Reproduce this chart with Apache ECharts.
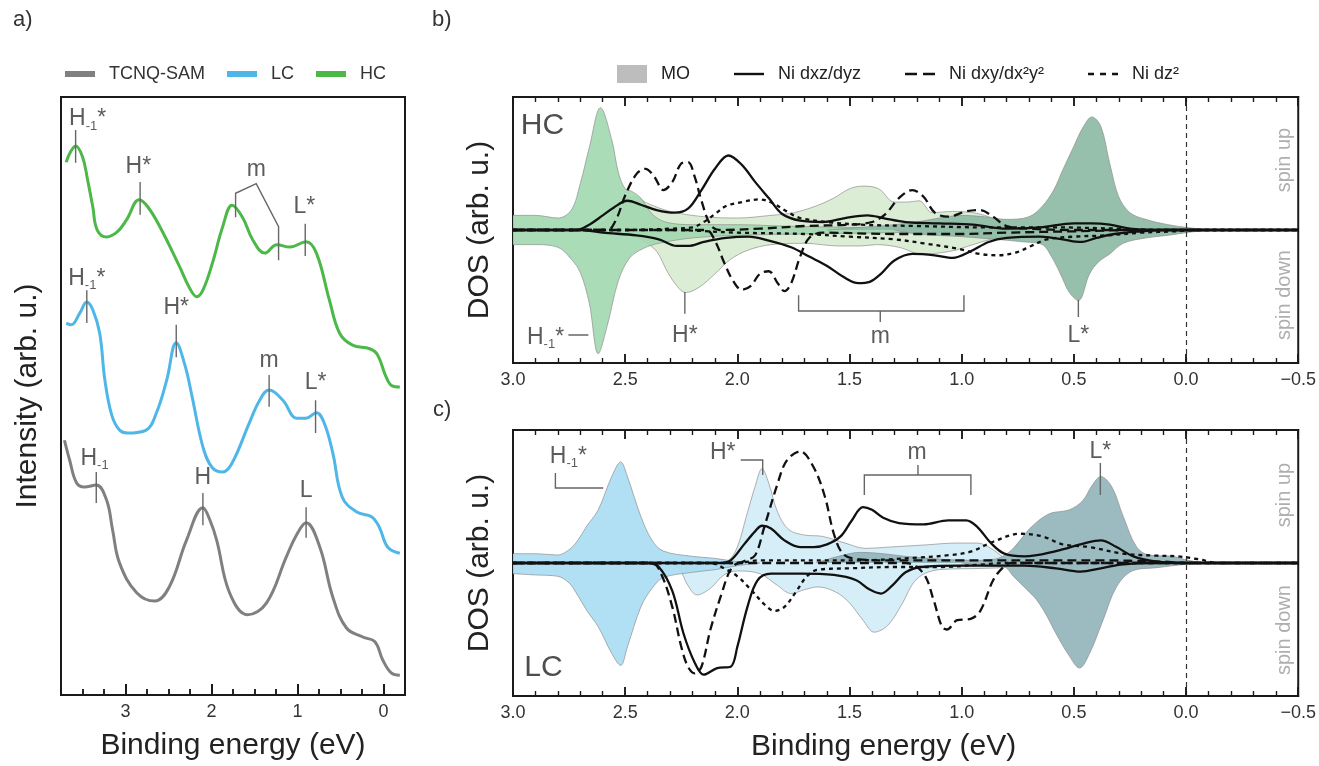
<!DOCTYPE html>
<html>
<head>
<meta charset="utf-8">
<script src="https://cdn.jsdelivr.net/npm/echarts@6/dist/echarts.min.js"></script>
<style>
  html, body { margin: 0; padding: 0; background: #fff; }
  #main { width: 1319px; height: 766px; }
</style>
</head>
<body>
<div id="main"></div>
<script>
// ---- panel a : UPS spectra, [binding energy eV, intensity arb. u.] ----
var spectraHc = [[3.69,89.1],[3.64,90.8],[3.58,91.8],[3.50,90.0],[3.44,86.1],[3.38,81.6],[3.33,77.8],[3.22,76.6],[3.10,77.4],[2.99,79.4],[2.84,82.8],[2.74,81.6],[2.60,78.3],[2.37,71.6],[2.26,68.2],[2.17,66.6],[2.10,67.7],[1.99,72.2],[1.87,78.3],[1.76,81.9],[1.64,79.9],[1.52,76.1],[1.38,73.9],[1.24,75.3],[1.09,74.9],[0.90,75.8],[0.78,73.9],[0.63,66.1],[0.51,60.5],[0.36,58.5],[0.16,57.9],[0.07,56.9],[-0.03,53.2],[-0.10,51.7],[-0.19,51.5]];
var spectraLc = [[3.69,62.2],[3.63,61.9],[3.53,63.9],[3.45,65.7],[3.38,64.4],[3.30,60.5],[3.24,52.7],[3.16,46.8],[3.07,44.3],[2.98,43.8],[2.76,44.3],[2.64,47.2],[2.52,52.7],[2.41,58.9],[2.31,55.2],[2.23,50.2],[2.10,41.5],[1.99,38.0],[1.87,37.3],[1.76,38.8],[1.56,45.5],[1.44,49.3],[1.33,51.0],[1.17,49.3],[1.01,46.3],[0.90,46.3],[0.78,47.2],[0.69,45.5],[0.59,40.5],[0.48,33.1],[0.31,30.6],[0.14,29.8],[0.05,28.1],[-0.05,24.7],[-0.19,23.7]];
var spectraTcnq = [[3.71,42.6],[3.65,39.3],[3.57,35.5],[3.48,34.8],[3.34,35.1],[3.22,32.6],[3.15,27.6],[3.07,22.1],[2.87,17.1],[2.66,15.7],[2.49,18.1],[2.29,25.9],[2.10,31.3],[2.02,29.3],[1.94,25.9],[1.79,17.1],[1.58,13.4],[1.36,15.4],[1.13,23.1],[1.01,26.8],[0.90,28.8],[0.74,24.7],[0.59,16.4],[0.43,11.2],[0.24,9.7],[0.10,8.9],[0.01,5.9],[-0.09,3.7],[-0.19,3.3]];
var majorTicksA = [0, 1, 2, 3];
var minorTicksA = [-0.25, 0.25, 0.5, 0.75, 1.25, 1.5, 1.75, 2.25, 2.5, 2.75, 3.25, 3.5, 3.75];

// ---- panel b : HC, DOS [eV, arb. u.], spin up > 0, spin down < 0 ----
var hcMoLightUp = [[2.65,0],[2.58,0.08],[2.52,0.2],[2.46,0.25],[2.40,0.2],[2.30,0.14],[2.15,0.10],[2.0,0.09],[1.85,0.11],[1.75,0.13],[1.65,0.18],[1.57,0.24],[1.50,0.31],[1.44,0.33],[1.37,0.31],[1.30,0.21],[1.24,0.21],[1.19,0.22],[1.13,0.13],[1.04,0.14],[0.95,0.13],[0.88,0.10],[0.82,0.05],[0.75,0.01],[0.7,0]];
var hcMoLightDown = [[2.5,0],[2.42,-0.08],[2.36,-0.16],[2.31,-0.32],[2.26,-0.44],[2.23,-0.47],[2.17,-0.43],[2.10,-0.33],[2.03,-0.22],[1.95,-0.15],[1.85,-0.11],[1.7,-0.10],[1.55,-0.12],[1.45,-0.12],[1.38,-0.11],[1.28,-0.13],[1.18,-0.18],[1.05,-0.16],[0.95,-0.11],[0.85,-0.06],[0.75,-0.02],[0.7,0]];
var hcMoMidUp = [[3.0,0.11],[2.9,0.11],[2.8,0.09],[2.74,0.15],[2.70,0.35],[2.66,0.62],[2.61,0.92],[2.56,0.68],[2.53,0.43],[2.50,0.31],[2.47,0.29],[2.43,0.24],[2.38,0.12],[2.32,0.06],[2.2,0.04],[2.0,0.04],[1.8,0.03],[1.5,0.02],[1.0,0.01],[0.7,0]];
var hcMoMidDown = [[3.0,-0.11],[2.9,-0.11],[2.8,-0.13],[2.74,-0.22],[2.70,-0.32],[2.66,-0.55],[2.62,-0.93],[2.58,-0.72],[2.53,-0.38],[2.48,-0.21],[2.42,-0.14],[2.35,-0.10],[2.2,-0.06],[2.0,-0.04],[1.7,-0.03],[1.3,-0.02],[0.9,-0.01],[0.7,0]];
var hcMoDarkUp = [[1.6,0],[1.45,0.02],[1.3,0.04],[1.2,0.06],[1.1,0.09],[1.0,0.11],[0.9,0.10],[0.8,0.08],[0.7,0.10],[0.64,0.18],[0.59,0.30],[0.55,0.45],[0.50,0.63],[0.46,0.77],[0.42,0.85],[0.38,0.78],[0.34,0.50],[0.30,0.25],[0.25,0.13],[0.18,0.08],[0.08,0.04],[0.0,0.02],[-0.1,0]];
var hcMoDarkDown = [[1.3,0],[1.2,-0.03],[1.0,-0.05],[0.85,-0.07],[0.72,-0.09],[0.64,-0.11],[0.60,-0.2],[0.56,-0.33],[0.52,-0.47],[0.48,-0.53],[0.43,-0.33],[0.39,-0.24],[0.34,-0.18],[0.28,-0.10],[0.18,-0.06],[0.08,-0.04],[0.0,-0.02],[-0.1,0]];
var hcDxzUp = [[3.0,0],[2.72,0],[2.66,0.04],[2.60,0.11],[2.55,0.17],[2.49,0.22],[2.43,0.19],[2.36,0.15],[2.28,0.13],[2.22,0.16],[2.16,0.30],[2.10,0.46],[2.04,0.56],[1.98,0.49],[1.92,0.36],[1.86,0.24],[1.80,0.12],[1.72,0.07],[1.62,0.06],[1.52,0.09],[1.42,0.11],[1.35,0.09],[1.25,0.06],[1.10,0.05],[0.95,0.04],[0.80,0.01],[0.65,0.02],[0.50,0.05],[0.42,0.05],[0.34,0.04],[0.25,0.01],[0.15,0],[-0.5,0]];
var hcDxzDown = [[3.0,0],[2.70,0],[2.60,-0.02],[2.45,-0.04],[2.35,-0.07],[2.27,-0.12],[2.22,-0.12],[2.15,-0.09],[2.05,-0.06],[1.95,-0.05],[1.86,-0.08],[1.76,-0.13],[1.68,-0.20],[1.60,-0.27],[1.53,-0.35],[1.46,-0.40],[1.41,-0.39],[1.36,-0.33],[1.30,-0.23],[1.22,-0.18],[1.12,-0.19],[1.04,-0.21],[0.96,-0.16],[0.88,-0.09],[0.80,-0.06],[0.65,-0.05],[0.55,-0.07],[0.47,-0.09],[0.40,-0.06],[0.32,-0.03],[0.20,-0.01],[0.10,0],[-0.5,0]];
var hcDxyUp = [[3.0,0],[2.58,0],[2.54,0.08],[2.50,0.26],[2.45,0.42],[2.41,0.46],[2.37,0.40],[2.33,0.30],[2.29,0.36],[2.25,0.50],[2.22,0.51],[2.19,0.40],[2.16,0.22],[2.12,0.04],[2.08,0],[1.9,0.01],[1.7,0.03],[1.5,0.04],[1.40,0.06],[1.34,0.12],[1.28,0.24],[1.22,0.30],[1.17,0.25],[1.12,0.13],[1.06,0.10],[0.98,0.14],[0.92,0.15],[0.86,0.10],[0.80,0.03],[0.70,0.01],[0.5,0],[-0.5,0]];
var hcDxyDown = [[3.0,0],[2.14,0],[2.10,-0.08],[2.06,-0.24],[2.02,-0.38],[1.98,-0.45],[1.94,-0.42],[1.90,-0.33],[1.86,-0.31],[1.82,-0.40],[1.79,-0.46],[1.76,-0.40],[1.72,-0.20],[1.68,-0.06],[1.62,-0.02],[1.3,-0.03],[1.0,-0.03],[0.8,-0.02],[0.5,-0.01],[0.2,0],[-0.5,0]];
var hcDz2Up = [[3.0,0],[2.5,0],[2.3,0.01],[2.2,0.02],[2.15,0.06],[2.10,0.12],[2.05,0.18],[1.98,0.21],[1.90,0.23],[1.84,0.20],[1.78,0.14],[1.72,0.09],[1.6,0.06],[1.45,0.04],[1.2,0.03],[0.9,0.02],[0.6,0.02],[0.3,0.01],[0.1,0],[-0.5,0]];
var hcDz2Down = [[3.0,0],[2.3,0],[2.0,-0.02],[1.7,-0.03],[1.5,-0.05],[1.3,-0.07],[1.17,-0.10],[1.02,-0.14],[0.92,-0.18],[0.84,-0.19],[0.76,-0.17],[0.69,-0.12],[0.62,-0.07],[0.5,-0.05],[0.35,-0.04],[0.2,-0.02],[0.05,-0.01],[-0.05,0],[-0.5,0]];

// ---- panel c : LC ----
var lcMoLightUp = [[2.1,0],[2.04,0.02],[2.0,0.12],[1.96,0.35],[1.92,0.58],[1.89,0.71],[1.86,0.60],[1.82,0.38],[1.77,0.25],[1.70,0.21],[1.62,0.20],[1.52,0.15],[1.43,0.11],[1.32,0.12],[1.17,0.135],[1.02,0.15],[0.93,0.15],[0.87,0.11],[0.81,0.04],[0.76,0]];
var lcMoLightDown = [[2.3,0],[2.26,-0.04],[2.22,-0.17],[2.18,-0.24],[2.12,-0.19],[2.06,-0.09],[2.0,-0.06],[1.9,-0.08],[1.82,-0.17],[1.76,-0.23],[1.70,-0.20],[1.64,-0.18],[1.56,-0.22],[1.50,-0.30],[1.44,-0.43],[1.39,-0.52],[1.33,-0.47],[1.27,-0.32],[1.20,-0.12],[1.10,-0.05],[0.9,-0.04],[0.8,-0.03],[0.75,0]];
var lcMoBlueUp = [[3.0,0.07],[2.9,0.07],[2.8,0.06],[2.75,0.10],[2.72,0.15],[2.67,0.28],[2.62,0.40],[2.56,0.65],[2.52,0.76],[2.49,0.65],[2.43,0.35],[2.38,0.17],[2.33,0.09],[2.2,0.05],[2.1,0.035],[2.0,0.01],[1.9,0]];
var lcMoBlueDown = [[3.0,-0.08],[2.9,-0.09],[2.8,-0.10],[2.75,-0.15],[2.72,-0.22],[2.67,-0.36],[2.62,-0.48],[2.56,-0.68],[2.52,-0.77],[2.49,-0.63],[2.43,-0.33],[2.38,-0.19],[2.33,-0.11],[2.2,-0.07],[2.1,-0.05],[2.0,-0.02],[1.9,0]];
var lcMoTealUp = [[1.65,0],[1.55,0.05],[1.45,0.08],[1.35,0.07],[1.25,0.05],[1.1,0.03],[0.95,0.02],[0.85,0.03],[0.79,0.08],[0.75,0.15],[0.69,0.27],[0.61,0.37],[0.52,0.40],[0.46,0.47],[0.42,0.58],[0.38,0.65],[0.33,0.57],[0.28,0.35],[0.22,0.12],[0.165,0.06],[0.06,0.05],[-0.01,0.02],[-0.09,0]];
var lcMoTealDown = [[1.0,0],[0.9,-0.02],[0.81,-0.03],[0.77,-0.10],[0.71,-0.20],[0.665,-0.28],[0.62,-0.40],[0.58,-0.53],[0.52,-0.70],[0.475,-0.79],[0.43,-0.68],[0.37,-0.43],[0.31,-0.18],[0.24,-0.06],[0.13,-0.035],[0.0,-0.01],[-0.08,0]];
var lcDxzUp = [[3.0,0],[2.08,0],[2.03,0.02],[1.97,0.14],[1.92,0.24],[1.89,0.28],[1.85,0.26],[1.79,0.17],[1.72,0.12],[1.66,0.12],[1.60,0.14],[1.54,0.20],[1.49,0.32],[1.44,0.42],[1.40,0.40],[1.35,0.34],[1.28,0.30],[1.17,0.29],[1.06,0.32],[0.98,0.32],[0.93,0.27],[0.87,0.15],[0.81,0.07],[0.72,0.05],[0.58,0.09],[0.45,0.15],[0.38,0.17],[0.31,0.12],[0.235,0.05],[0.13,0.01],[0.0,0],[-0.5,0]];
var lcDxzDown = [[3.0,0],[2.40,0],[2.35,-0.03],[2.29,-0.21],[2.24,-0.53],[2.19,-0.75],[2.15,-0.84],[2.09,-0.79],[2.03,-0.78],[2.0,-0.63],[1.955,-0.33],[1.91,-0.13],[1.85,-0.08],[1.72,-0.08],[1.57,-0.09],[1.47,-0.13],[1.41,-0.20],[1.36,-0.23],[1.31,-0.17],[1.25,-0.07],[1.18,-0.03],[1.0,-0.02],[0.72,-0.02],[0.58,-0.04],[0.47,-0.065],[0.38,-0.04],[0.28,-0.01],[0.15,0],[-0.5,0]];
var lcDxyUp = [[3.0,0],[2.0,0],[1.96,0.02],[1.92,0.06],[1.88,0.27],[1.82,0.60],[1.78,0.77],[1.72,0.84],[1.66,0.72],[1.61,0.50],[1.57,0.22],[1.53,0.07],[1.47,0.03],[1.3,0.02],[1.0,0.02],[0.7,0.02],[0.4,0.02],[0.1,0.01],[0.0,0],[-0.5,0]];
var lcDxyDown = [[3.0,0],[2.38,0],[2.34,-0.08],[2.29,-0.33],[2.25,-0.63],[2.22,-0.78],[2.19,-0.83],[2.16,-0.78],[2.12,-0.50],[2.07,-0.23],[2.03,-0.05],[1.99,0],[1.25,0],[1.17,-0.08],[1.125,-0.28],[1.088,-0.48],[1.066,-0.50],[1.02,-0.43],[0.96,-0.42],[0.917,-0.36],[0.86,-0.13],[0.814,-0.03],[0.78,0],[-0.5,0]];
var lcDz2Up = [[3.0,0],[2.0,0],[1.9,0.02],[1.47,0.02],[1.2,0.04],[1.05,0.06],[0.96,0.085],[0.86,0.16],[0.74,0.22],[0.64,0.20],[0.55,0.14],[0.43,0.12],[0.28,0.07],[0.13,0.055],[0.04,0.05],[-0.05,0.03],[-0.15,0],[-0.5,0]];
var lcDz2Down = [[3.0,0],[2.12,0],[2.06,-0.04],[2.0,-0.10],[1.94,-0.20],[1.88,-0.31],[1.835,-0.36],[1.79,-0.33],[1.74,-0.22],[1.69,-0.10],[1.64,-0.05],[1.5,-0.04],[1.3,-0.03],[1.1,-0.03],[0.9,-0.01],[0.8,0],[-0.5,0]];

// ---- peak assignment marks (drawn in data coordinates) ----
var aMarks = [
  [[3.58,89.0],[3.58,94.5]], [[2.83,80.3],[2.83,85.8]],
  [[1.72,79.9],[1.72,83.9],[1.48,85.5],[1.22,78.3],[1.22,72.7]], [[0.91,73.4],[0.91,78.8]],
  [[3.45,62.2],[3.45,67.7]], [[2.41,56.5],[2.41,61.9]], [[1.33,48.2],[1.33,53.5]], [[0.79,43.8],[0.79,49.3]],
  [[3.34,32.1],[3.34,37.3]], [[2.10,28.4],[2.10,33.8]], [[0.90,26.3],[0.90,31.4]]
];
var aTexts = [
  [3.44,96.3,'H{s|-1}*'], [2.85,88.4,'H*'], [1.48,87.8,'m'], [0.92,81.6,'L*'],
  [3.45,69.6,'H{s|-1}*'], [2.41,64.7,'H*'], [1.33,55.9,'m'], [0.79,52.2,'L*'],
  [3.36,39.5,'H{s|-1}'], [2.10,36.3,'H'], [0.90,34.1,'L']
];
var bMarks = [
  [[2.753,-0.79],[2.664,-0.79]], [[2.234,-0.466],[2.234,-0.63]],
  [[1.727,-0.49],[1.727,-0.609],[0.99,-0.609],[0.99,-0.49]], [[1.363,-0.609],[1.363,-0.692]],
  [[0.48,-0.526],[0.48,-0.654]]
];
var bTexts = [[2.855,-0.81,'H{s|-1}*'], [2.234,-0.797,'H*'], [1.363,-0.805,'m'], [0.48,-0.797,'L*']];
var cMarks = [
  [[2.811,0.677],[2.811,0.564],[2.598,0.564]], [[1.985,0.774],[1.887,0.774],[1.887,0.662]],
  [[1.434,0.511],[1.434,0.662],[0.959,0.662],[0.959,0.511]], [[1.195,0.662],[1.195,0.737]],
  [[0.382,0.752],[0.382,0.511]]
];
var cTexts = [[2.753,0.80,'H{s|-1}*'], [2.065,0.827,'H*'], [1.199,0.827,'m'], [0.382,0.835,'L*']];
var bSpin = [[-0.44,0.526,'spin up'], [-0.44,-0.489,'spin down']];
var cSpin = [[-0.44,0.511,'spin up'], [-0.44,-0.504,'spin down']];

// tick values of the DOS energy axis: every 0.1 eV, major every 0.5 eV
var dosMajorTicks = [], dosMinorTicks = [];
for (var i = -5; i <= 30; i++) { (i % 5 === 0 ? dosMajorTicks : dosMinorTicks).push(i / 10); }

var FONT = '"Liberation Sans", Arial, sans-serif';
var RICH = { s: { fontSize: 13, fontFamily: FONT, color: '#333', padding: [14, 0, 0, 0], verticalAlign: 'top' } };
var INK = '#1a1a1a';

// legend glyphs for the three line styles (kept to aspect by the legend)
var ICON_SOLID = 'path://M0,0 H30 V2.4 H0 Z';
var ICON_DASH = 'path://M0,0 H12 V2.6 H0 Z M18,0 H30 V2.6 H18 Z';
var ICON_DOT = 'path://M0,0 H6 V2.4 H0 Z M12,0 H18 V2.4 H12 Z M24,0 H30 V2.4 H24 Z';

function fill(data, color, xi, yi, z) {
  return { type: 'line', data: data, xAxisIndex: xi, yAxisIndex: yi, smooth: 0.35, symbol: 'none', silent: true, z: z,
    lineStyle: { color: '#8f8f8f', width: 0.7 }, areaStyle: { color: color, opacity: 0.92 } };
}
function orbital(name, data, xi, yi, dash) {
  return { type: 'line', name: name, data: data, xAxisIndex: xi, yAxisIndex: yi, smooth: 0.35, symbol: 'none', silent: true, z: 5,
    color: '#111', lineStyle: { color: '#111', width: 2.3, type: dash } };
}
function spectrum(name, data, color) {
  return { type: 'line', name: name, data: data, xAxisIndex: 0, yAxisIndex: 0, smooth: 0.4, symbol: 'none', silent: true,
    color: color, lineStyle: { color: color, width: 3 } };
}
function marks(list, xi, yi) {
  return { type: 'lines', coordinateSystem: 'cartesian2d', xAxisIndex: xi, yAxisIndex: yi, polyline: true, silent: true, z: 8,
    lineStyle: { color: '#666', width: 1.4, opacity: 1 },
    data: list.map(function (c) { return { coords: c }; }) };
}
// inward tick marks along an edge of the box, placed through the axes
function ticks(values, xi, yi, edge, len, width) {
  return { type: 'lines', coordinateSystem: 'cartesian2d', xAxisIndex: xi, yAxisIndex: yi, silent: true, z: 12,
    lineStyle: { color: INK, width: width, opacity: 1 },
    data: values.map(function (v) { return { coords: [[v, edge], [v, edge + len]] }; }) };
}
function texts(list, xi, yi, size, color, rotate) {
  return { type: 'scatter', xAxisIndex: xi, yAxisIndex: yi, symbolSize: 0, silent: true, z: 9,
    data: list.map(function (t) { return { value: [t[0], t[1]], label: { formatter: t[2] } }; }),
    label: { show: true, position: 'inside', fontSize: size, fontFamily: FONT, color: color, rotate: rotate || 0, rich: RICH } };
}
function fmt(v) { return (v < 0 ? '\u2212' : '') + Math.abs(v).toFixed(1); }

// first x axis of a grid sits at the bottom, the second one at the top
function dosAxis(grid, showLabel, name) {
  return { type: 'value', gridIndex: grid, inverse: true, min: -0.5, max: 3.0, interval: 0.5, z: 10,
    axisLine: { show: true, onZero: false, lineStyle: { color: INK, width: 2 } }, splitLine: { show: false },
    axisTick: { show: true, inside: true, length: 9, lineStyle: { color: INK, width: 1.5 } },
    minorTick: { show: true, splitNumber: 5, length: 5, lineStyle: { color: INK, width: 1.2 } },
    axisLabel: { show: showLabel, formatter: fmt, fontSize: 18, color: '#333', fontFamily: FONT, margin: 8 },
    name: name || '', nameLocation: 'middle', nameGap: 36,
    nameTextStyle: { fontSize: 30, color: '#222', fontFamily: FONT, padding: [0, 44, 0, 0] } };
}
function hiddenY(grid, min, max, name) {
  return { type: 'value', gridIndex: grid, min: min, max: max, axisLine: { show: false }, axisTick: { show: false },
    axisLabel: { show: false }, splitLine: { show: false },
    name: name || '', nameLocation: 'middle', nameGap: 18, nameTextStyle: { fontSize: 30, color: '#222', fontFamily: FONT } };
}
var zeroLine = { silent: true, symbol: 'none', label: { show: false },
  lineStyle: { color: '#333', width: 1.2, type: [5, 4] }, data: [{ xAxis: 0 }] };

var chart = echarts.init(document.getElementById('main'));
var border = { show: true, borderColor: INK, borderWidth: 2, backgroundColor: 'transparent' };

// tick lengths in axis units: panel a 598 px per 100, panels b/c 133 px per 1
var series = [
  spectrum('TCNQ-SAM', spectraTcnq, '#808080'),
  spectrum('LC', spectraLc, '#4fb6e8'),
  spectrum('HC', spectraHc, '#4cb848'),
  marks(aMarks, 0, 0),
  texts(aTexts, 0, 0, 23, '#333'),
  ticks(majorTicksA, 0, 0, 0, 1.85, 2),
  ticks(minorTicksA, 0, 0, 0, 1.0, 1.5),

  // HC
  Object.assign(fill(hcMoLightUp, '#d8ecd0', 1, 1, 1), { markLine: zeroLine }),
  fill(hcMoLightDown, '#d8ecd0', 1, 1, 1),
  fill(hcMoMidUp, '#a3d9b1', 1, 1, 2),
  fill(hcMoMidDown, '#a3d9b1', 1, 1, 2),
  fill(hcMoDarkUp, '#8dbba4', 1, 1, 3),
  fill(hcMoDarkDown, '#8dbba4', 1, 1, 3),
  orbital('Ni dxz/dyz', hcDxzUp, 1, 1, 'solid'),
  orbital('Ni dxz/dyz', hcDxzDown, 1, 1, 'solid'),
  orbital('Ni dxy/dx\u00b2y\u00b2', hcDxyUp, 1, 1, [9, 5]),
  orbital('Ni dxy/dx\u00b2y\u00b2', hcDxyDown, 1, 1, [9, 5]),
  orbital('Ni dz\u00b2', hcDz2Up, 1, 1, [4, 4]),
  orbital('Ni dz\u00b2', hcDz2Down, 1, 1, [4, 4]),
  marks(bMarks, 1, 1),
  texts(bTexts, 1, 1, 23, '#333'),
  texts([[2.869, 0.782, 'HC']], 1, 1, 30, '#222'),
  texts(bSpin, 1, 1, 20, '#9a9a9a', 90),
  ticks(dosMajorTicks, 1, 1, -1, 0.068, 1.5),
  ticks(dosMinorTicks, 1, 1, -1, 0.038, 1.2),
  ticks(dosMajorTicks, 1, 1, 1, -0.068, 1.5),
  ticks(dosMinorTicks, 1, 1, 1, -0.038, 1.2),

  // LC
  Object.assign(fill(lcMoLightUp, '#d3edf7', 3, 2, 1), { markLine: zeroLine }),
  fill(lcMoLightDown, '#d3edf7', 3, 2, 1),
  fill(lcMoBlueUp, '#aadcf3', 3, 2, 2),
  fill(lcMoBlueDown, '#aadcf3', 3, 2, 2),
  fill(lcMoTealUp, '#93b5bc', 3, 2, 3),
  fill(lcMoTealDown, '#93b5bc', 3, 2, 3),
  orbital('Ni dxz/dyz', lcDxzUp, 3, 2, 'solid'),
  orbital('Ni dxz/dyz', lcDxzDown, 3, 2, 'solid'),
  orbital('Ni dxy/dx\u00b2y\u00b2', lcDxyUp, 3, 2, [9, 5]),
  orbital('Ni dxy/dx\u00b2y\u00b2', lcDxyDown, 3, 2, [9, 5]),
  orbital('Ni dz\u00b2', lcDz2Up, 3, 2, [4, 4]),
  orbital('Ni dz\u00b2', lcDz2Down, 3, 2, [4, 4]),
  marks(cMarks, 3, 2),
  texts(cTexts, 3, 2, 23, '#333'),
  texts([[2.864, -0.789, 'LC']], 3, 2, 30, '#222'),
  texts(cSpin, 3, 2, 20, '#9a9a9a', 90),
  ticks(dosMajorTicks, 3, 2, -1, 0.068, 1.5),
  ticks(dosMinorTicks, 3, 2, -1, 0.038, 1.2),
  ticks(dosMajorTicks, 3, 2, 1, -0.068, 1.5),
  ticks(dosMinorTicks, 3, 2, 1, -0.038, 1.2),

  // legend swatch only
  { type: 'line', name: 'MO', data: [], xAxisIndex: 1, yAxisIndex: 1, color: '#bdbdbd', areaStyle: {} }
];

chart.setOption({
  animation: false,
  textStyle: { fontFamily: FONT },
  grid: [
    Object.assign({ left: 61, top: 97, width: 344, height: 598 }, border),
    Object.assign({ left: 513, top: 97, width: 790, height: 266 }, border),
    Object.assign({ left: 513, top: 430, width: 790, height: 266 }, border),
    // same box as panel a, only carries the minor ticks
    { left: 61, top: 97, width: 344, height: 598, show: false }
  ],
  xAxis: [
    { type: 'value', gridIndex: 0, inverse: true, min: -0.25, max: 3.75, z: 10,
      axisLine: { show: true, onZero: false, lineStyle: { color: INK, width: 2 } }, splitLine: { show: false },
      axisTick: { show: true, inside: true, length: 11, customValues: majorTicksA, lineStyle: { color: INK, width: 2 } },
      axisLabel: { fontSize: 18, color: '#333', margin: 8, fontFamily: FONT, customValues: majorTicksA },
      name: 'Binding energy (eV)', nameLocation: 'middle', nameGap: 36,
      nameTextStyle: { fontSize: 30, color: '#222', fontFamily: FONT } },
    dosAxis(1, true),
    dosAxis(1, false),
    dosAxis(2, true, 'Binding energy (eV)'),
    dosAxis(2, false),
    { type: 'value', gridIndex: 3, inverse: true, min: -0.25, max: 3.75, z: 10,
      axisLine: { show: true, onZero: false, lineStyle: { color: INK, width: 2 } }, splitLine: { show: false },
      axisLabel: { show: false, customValues: minorTicksA },
      axisTick: { show: true, inside: true, length: 6, customValues: minorTicksA, lineStyle: { color: INK, width: 1.5 } } }
  ],
  yAxis: [
    hiddenY(0, 0, 100, 'Intensity (arb. u.)'),
    hiddenY(1, -1, 1, 'DOS (arb. u.)'),
    hiddenY(2, -1, 1, 'DOS (arb. u.)'),
    hiddenY(3, 0, 100)
  ],
  legend: [
    { left: 60, top: 60, icon: 'rect', itemWidth: 30, itemHeight: 6, itemGap: 22, selectedMode: false,
      textStyle: { fontSize: 18, color: '#333', padding: [0, 0, 0, 9] },
      data: ['TCNQ-SAM', 'LC', 'HC'] },
    { left: 612, top: 60, itemWidth: 30, itemHeight: 18, itemGap: 44, selectedMode: false,
      textStyle: { fontSize: 18, color: '#222', padding: [0, 0, 0, 9] },
      data: [
        { name: 'MO', icon: 'rect', itemStyle: { color: '#bdbdbd' } },
        { name: 'Ni dxz/dyz', icon: ICON_SOLID },
        { name: 'Ni dxy/dx\u00b2y\u00b2', icon: ICON_DASH },
        { name: 'Ni dz\u00b2', icon: ICON_DOT }
      ] }
  ],
  graphic: [
    { type: 'text', left: 13, top: 9, style: { text: 'a)', fill: '#333', font: '22px ' + FONT } },
    { type: 'text', left: 432, top: 9, style: { text: 'b)', fill: '#333', font: '22px ' + FONT } },
    { type: 'text', left: 433, top: 399, style: { text: 'c)', fill: '#333', font: '22px ' + FONT } }
  ],
  series: series
});
</script>
</body>
</html>
